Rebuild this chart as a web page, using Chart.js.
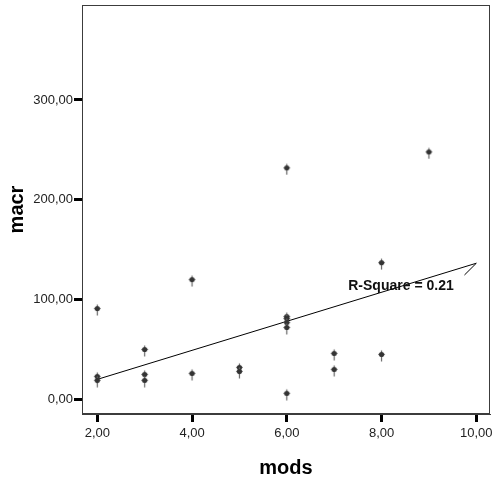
<!DOCTYPE html>
<html><head><meta charset="utf-8">
<script src="https://cdn.jsdelivr.net/npm/chart.js@4/dist/chart.umd.min.js"></script>
<style>html,body{margin:0;padding:0;background:#fff;}#wrap{width:493px;height:479px;}</style>
</head><body><div id="wrap"><canvas id="c" width="493" height="479"></canvas></div>
<script>
// ---- data ----
const mods = [2, 2, 2, 3, 3, 3, 4, 4, 5, 5, 6, 6, 6, 6, 6, 6, 7, 7, 8, 8, 9];
const macr = [91, 23, 19, 50, 25, 19, 120, 26, 32, 28, 232, 83, 81, 77, 72, 6, 46, 30, 137, 45, 248];
const fitX = [2, 10, 9.75];
const fitY = [20, 136.4, 124.6];
const xTicks = [2, 4, 6, 8, 10];
const yTicks = [0, 100, 200, 300];
const xTitle = 'mods';
const yTitle = 'macr';
const rSquareText = 'R-Square = 0.21';
const rSquareAt = [8.41, 113.9];

const FONT = "'Liberation Sans', Arial, sans-serif";
const fmt = v => Number(v).toFixed(2).replace('.', ',');

function makeMarker() {
  const c = document.createElement('canvas');
  c.width = 9; c.height = 15;
  const g = c.getContext('2d');
  g.strokeStyle = '#666'; g.lineWidth = 1.2;
  g.beginPath(); g.moveTo(4.5, 3.5); g.lineTo(4.5, 14.5); g.stroke();
  g.beginPath(); g.moveTo(1.2, 7.5); g.lineTo(7.8, 7.5); g.stroke();
  g.fillStyle = '#333';
  g.beginPath(); g.arc(4.5, 7.5, 2.6, 0, Math.PI * 2); g.fill();
  return c;
}
const marker = makeMarker();

const framePlugin = {
  id: 'frame',
  beforeDatasetsDraw(chart) {
    const { ctx, chartArea: a } = chart;
    ctx.save();
    ctx.strokeStyle = '#3c3c3c';
    ctx.lineWidth = 1;
    const l = Math.round(a.left) + 0.5, t = Math.round(a.top) + 0.5;
    const r = Math.round(a.right) - 0.5, b = Math.round(a.bottom) - 0.5;
    ctx.strokeRect(l, t, r - l, b - t);
    ctx.restore();
  },
  afterDatasetsDraw(chart) {
    const { ctx, scales } = chart;
    ctx.save();
    ctx.font = "bold 14px " + FONT;
    ctx.fillStyle = '#111';
    ctx.textAlign = 'center';
    ctx.textBaseline = 'middle';
    ctx.fillText(rSquareText, scales.x.getPixelForValue(rSquareAt[0]), scales.y.getPixelForValue(rSquareAt[1]));
    ctx.restore();
  }
};

const tickGrid = { drawOnChartArea: false, drawTicks: true, tickLength: 8, tickWidth: 3, tickColor: '#000' };

new Chart(document.getElementById('c'), {
  type: 'scatter',
  data: {
    datasets: [
      {
        type: 'scatter',
        data: mods.map((m, i) => ({ x: m, y: macr[i] })),
        pointStyle: marker,
        pointRadius: 4,
        order: 1
      },
      {
        type: 'line',
        data: fitX.map((x, i) => ({ x, y: fitY[i] })),
        borderColor: '#000',
        borderWidth: 1,
        pointRadius: 0,
        fill: false,
        tension: 0,
        order: 2
      }
    ]
  },
  options: {
    responsive: false,
    devicePixelRatio: 1,
    animation: false,
    layout: { autoPadding: false, padding: { top: 5, right: 3, left: 0, bottom: 0 } },
    plugins: { legend: { display: false }, tooltip: { enabled: false } },
    scales: {
      x: {
        type: 'linear',
        min: 1.677, max: 10.289,
        afterBuildTicks: s => { s.ticks = xTicks.map(v => ({ value: v })); },
        afterFit: s => { s.height = 65; s.paddingLeft = 0; s.paddingRight = 0; },
        grid: tickGrid,
        border: { display: true, color: '#3c3c3c', width: 1 },
        ticks: { callback: fmt, color: '#222', padding: 4, maxRotation: 0, autoSkip: false, font: { family: FONT, size: 13 } },
        title: { display: true, text: xTitle, color: '#000', padding: { top: 0, bottom: 0 }, font: { family: FONT, size: 20, weight: 'bold', lineHeight: 1.1 } }
      },
      y: {
        type: 'linear',
        min: -14.7, max: 395.2,
        afterBuildTicks: s => { s.ticks = yTicks.map(v => ({ value: v })); },
        afterFit: s => { s.width = 82; s.paddingTop = 0; s.paddingBottom = 0; },
        grid: tickGrid,
        border: { display: true, color: '#3c3c3c', width: 1 },
        ticks: { callback: fmt, color: '#222', padding: 1, font: { family: FONT, size: 13 } },
        title: { display: true, text: yTitle, color: '#000', padding: { top: 5, bottom: 0 }, font: { family: FONT, size: 20, weight: 'bold', lineHeight: 1.2 } }
      }
    }
  },
  plugins: [framePlugin]
});
</script></body></html>
